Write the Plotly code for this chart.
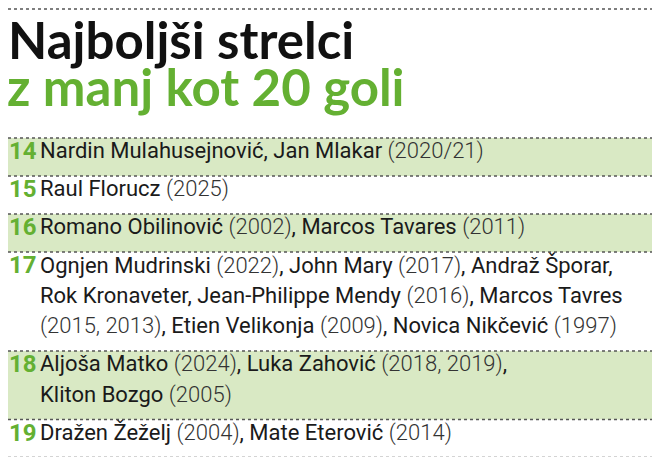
import plotly.graph_objects as go

TITLE_1 = "Najboljši strelci"
TITLE_2 = "z manj kot 20 goli"

GOALS = [14, 15, 16, 17, 18, 19]
# each row: list of text lines, each line a list of (text, is_year)
ROWS = [
    [[("Nardin Mulahusejnović, Jan Mlakar ", 0), ("(2020/21)", 1)]],
    [[("Raul Florucz ", 0), ("(2025)", 1)]],
    [[("Romano Obilinović ", 0), ("(2002)", 1), (", Marcos Tavares ", 0), ("(2011)", 1)]],
    [[("Ognjen Mudrinski ", 0), ("(2022)", 1), (", John Mary ", 0), ("(2017)", 1), (", Andraž Šporar,", 0)],
     [("Rok Kronaveter, Jean-Philippe Mendy ", 0), ("(2016)", 1), (", Marcos Tavres", 0)],
     [("(2015, 2013)", 1), (", Etien Velikonja ", 0), ("(2009)", 1), (", Novica Nikčević ", 0), ("(1997)", 1)]],
    [[("Aljoša Matko ", 0), ("(2024)", 1), (", Luka Zahović ", 0), ("(2018, 2019)", 1), (",", 0)],
     [("Kliton Bozgo ", 0), ("(2005)", 1)]],
    [[("Dražen Žeželj ", 0), ("(2004)", 1), (", Mate Eterović ", 0), ("(2014)", 1)]],
]
SHADED = [True, False, True, False, True, False]

GREEN = "#64b032"
SHADE = "#d9e9c4"
W, H = 660, 457
TOP = 130
LINE_H = 30.5
PAD = 7.5
DY = -6  # annotation vertical nudge

fig = go.Figure()
shapes = []
annotations = []


def dotted(y):
    shapes.append(dict(type="line", x0=0, x1=W, y0=y, y1=y, xref="x", yref="y",
                       line=dict(color="#555", width=1.3, dash="dot")))


def fmt(parts):
    out = ""
    for t, yr in parts:
        if yr:
            out += f"<span style='font-weight:300;color:#333'>{t}</span>"
        else:
            out += t
    return out


dotted(1)
annotations.append(dict(x=0, xshift=-1, y=37 + DY, text=f"<b>{TITLE_1}</b>", showarrow=False,
                        xanchor="left", yanchor="middle", borderpad=0,
                        font=dict(size=51, color="#111", family="Lato")))
annotations.append(dict(x=0, xshift=-2, y=84 + DY, text=f"<b>{TITLE_2}</b>", showarrow=False,
                        xanchor="left", yanchor="middle", borderpad=0,
                        font=dict(size=51, color=GREEN, family="Lato")))

y = TOP
for goals, lines, shaded in zip(GOALS, ROWS, SHADED):
    h = LINE_H * len(lines) + PAD
    if shaded:
        shapes.append(dict(type="rect", x0=0, x1=W, y0=y, y1=y + h, xref="x", yref="y",
                           fillcolor=SHADE, line=dict(width=0), layer="below"))
    dotted(y)
    first = y + PAD / 2 + LINE_H / 2
    annotations.append(dict(x=0, y=first + DY, text=f"<b>{goals}</b>", showarrow=False,
                            xanchor="left", yanchor="middle", borderpad=0,
                            font=dict(size=24, color=GREEN, family="Roboto")))
    for i, parts in enumerate(lines):
        annotations.append(dict(x=30, y=first + i * LINE_H + DY, text=fmt(parts), showarrow=False,
                                xanchor="left", yanchor="middle",
                                font=dict(size=22, color="#1a1a1a", family="Roboto")))
    y += h
dotted(y)

fig.update_layout(
    width=W, height=H, margin=dict(l=0, r=0, t=0, b=0),
    paper_bgcolor="white", plot_bgcolor="white",
    xaxis=dict(range=[0, W], visible=False, fixedrange=True),
    yaxis=dict(range=[H, 0], visible=False, fixedrange=True),
    shapes=shapes, annotations=annotations, showlegend=False,
)
fig.write_html("out.html")
